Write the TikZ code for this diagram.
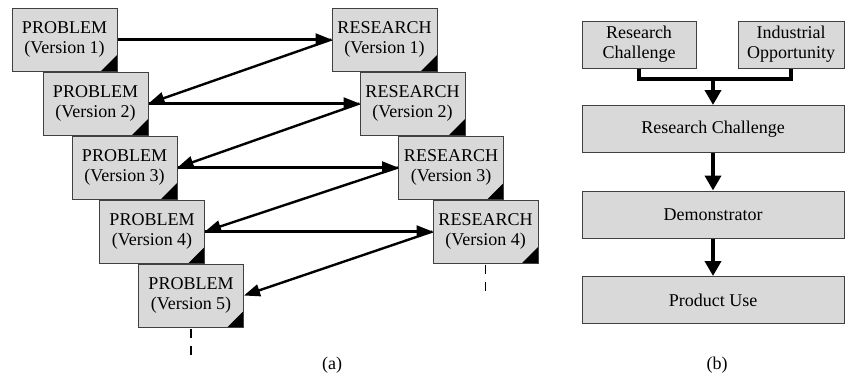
\documentclass[tikz,border=0pt]{standalone}
\usepackage{fontspec}
\setmainfont{Liberation Serif}
\usetikzlibrary{arrows.meta}
\tikzset{
	stage/.style={draw=black!75,fill=black!15,line width=0.5pt,inner sep=0,
		minimum width=52.5pt,minimum height=31.5pt,align=center,font=\fontsize{9}{10}\selectfont,
		path picture={\fill[black] (path picture bounding box.south east)--++(-8pt,0pt)--++(8pt,8pt)--cycle;}},
	block/.style={draw=black!75,fill=black!15,line width=0.5pt,inner sep=0,
		minimum height=23.5pt,align=center,font=\fontsize{9}{10}\selectfont},
	link/.style={-{Triangle[length=8pt,width=6pt]},line width=1.2pt},
	flow/.style={-{Triangle[length=7.5pt,width=8pt]},line width=2pt},
	trail/.style={dash pattern=on 4.5pt off 4pt,line width=0.8pt}
}
\begin{document}
\begin{tikzpicture}[x=0.5pt,y=-0.5pt]
\useasboundingbox (0,0) rectangle (845,381);
\node[stage] (p1) at (64.5,39.5) {PROBLEM\\(Version 1)};
\node[stage] (p2) at (95.5,103.5) {PROBLEM\\(Version 2)};
\node[stage] (p3) at (124.5,167.5) {PROBLEM\\(Version 3)};
\node[stage] (p4) at (152,231.5) {PROBLEM\\(Version 4)};
\node[stage] (p5) at (191,295.5) {PROBLEM\\(Version 5)};
\node[stage] (r1) at (384.5,39.5) {RESEARCH\\(Version 1)};
\node[stage] (r2) at (412.5,103.5) {RESEARCH\\(Version 2)};
\node[stage] (r3) at (451,167.5) {RESEARCH\\(Version 3)};
\node[stage] (r4) at (485.5,231.5) {RESEARCH\\(Version 4)};
\foreach \i/\j in {1/2,2/3,3/4,4/5}{
	\draw[link] (p\i.east)--(r\i.west);
	\draw[link] (r\i.west)--(p\j.east);
}
\coordinate (endp) at ([yshift=-15pt]p5.south);
\coordinate (endr) at ([yshift=-15pt]r4.south);
\draw[trail] ([yshift=-0.5pt]p5.south)--(endp);
\draw[trail] ([yshift=-0.5pt]r4.south)--(endr);
\node[font=\fontsize{9}{10}\selectfont] (la) at (332,365) {(a)};
\node[block,minimum width=57pt] (rcs) at (639,44.5) {Research\\Challenge};
\node[block,minimum width=53pt] (io) at (791,44.5) {Industrial\\Opportunity};
\node[block,minimum width=131pt] (rc) at (713,129) {Research Challenge};
\node[block,minimum width=131pt] (demo) at (713,214.5) {Demonstrator};
\node[block,minimum width=131pt] (use) at (713,300) {Product Use};
\coordinate (join) at (713,79);
\draw[line width=2pt] (rcs.south)|-(join)-|(io.south);
\draw[flow] (join)--(rc.north);
\draw[flow] (rc)--(demo);
\draw[flow] (demo)--(use);
\node[font=\fontsize{9}{10}\selectfont] (lb) at (717,365) {(b)};
\end{tikzpicture}
\end{document}
